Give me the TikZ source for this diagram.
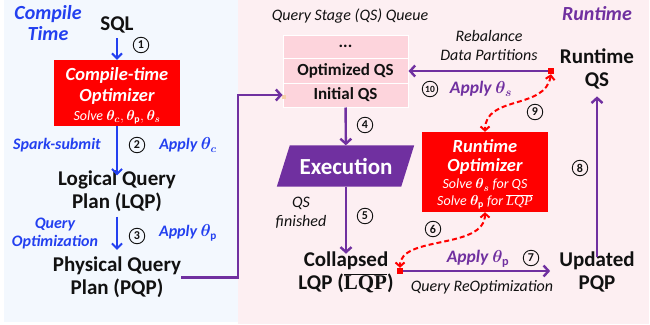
\documentclass[tikz,border=0pt]{standalone}
\usepackage{fontspec}
\setmainfont{Carlito}
\newfontfamily\lqpserif{Liberation Serif}
\usepackage{bm}
\usetikzlibrary{arrows.meta}

\definecolor{cblue}{HTML}{2340F0}
\definecolor{cpurple}{HTML}{7030A0}
\definecolor{cred}{HTML}{FF0000}
\definecolor{ink}{HTML}{111111}
\definecolor{leftbg}{HTML}{F3F8FE}
\definecolor{rightbg}{HTML}{FDEFF2}
\definecolor{qsfill}{HTML}{FDD4DC}
\definecolor{handle}{HTML}{F6CFA8}

\newcommand{\lqpbar}{$\overline{\mbox{\lqpserif\bfseries LQP}}$}
\newcommand{\lqpbarthin}{$\overline{\mbox{\lqpserif LQP}}$}

\tikzset{
  stagetext/.style={align=center, text=ink, font=\fontsize{21}{23}\selectfont\bfseries, inner sep=1pt},
  bluelabel/.style={text=cblue, font=\fontsize{16}{18}\selectfont\bfseries\itshape, align=center, inner sep=0pt},
  purplelabel/.style={text=cpurple, font=\fontsize{17.5}{20}\selectfont\bfseries\itshape, inner sep=0pt},
  note/.style={text=ink, font=\fontsize{16}{19}\selectfont\itshape, align=center, inner sep=0pt},
  stepnum/.style={circle, draw=ink, line width=0.9pt, minimum size=15.5pt, inner sep=0pt,
    font=\fontsize{12}{12}\selectfont\bfseries, text=ink},
  optbox/.style={fill=cred, minimum width=126pt, inner sep=0pt},
  boxhead/.style={text=white, font=\fontsize{18.5}{21}\selectfont\bfseries\itshape, inner sep=0pt},
  boxsub/.style={text=white, font=\fontsize{14}{16}\selectfont\itshape, inner sep=0pt},
  qsrow/.style={fill=qsfill, draw=white, line width=1pt, minimum width=125pt, inner sep=0pt,
    font=\fontsize{17}{19}\selectfont\bfseries, text=ink},
  barrow/.style={draw=cblue, line width=2pt, -{Straight Barb[length=5pt,width=10pt]}},
  parrow/.style={draw=cpurple, line width=2.4pt, -{Straight Barb[length=5pt,width=11pt]}},
  darrow/.style={draw=cred, line width=2pt, dash pattern=on 5pt off 3pt,
    {Straight Barb[length=4pt,width=9pt]}-{Straight Barb[length=4pt,width=9pt]}},
  redsq/.style={fill=cred, minimum size=6pt, inner sep=0pt},
}

\begin{document}
\begin{tikzpicture}[x=1pt,y=-1pt]
\useasboundingbox (0,0) rectangle (650,324);
\fill[white] (0,0) rectangle (650,324);
\fill[leftbg] (4,0) rectangle (238,321.5);
\fill[rightbg] (238,0) rectangle (649,324);

% ---------- compile time ----------
\node[bluelabel, font=\fontsize{20}{21}\selectfont\bfseries\itshape] (ctitle) at (48,23) {Compile\\Time};
\node[stagetext] (sql) at (117,25) {SQL};
\node[optbox, minimum height=66pt] (cto) at (117,93) {};
\node[boxhead] (ctoa) at (117,75) {Compile-time};
\node[boxhead] (ctob) at (117,96) {Optimizer};
\node[boxsub] (ctoc) at (117,117) {Solve $\bm{\theta}_{\bm{c}}, \bm{\theta}_{\mathbf{p}}, \bm{\theta}_{\bm{s}}$};
\node[stagetext] (lqp) at (117,191) {Logical Query\\Plan (LQP)};
\node[stagetext] (pqp) at (117,277.5) {Physical Query\\Plan (PQP)};

\draw[barrow, shorten <=4pt] (sql) -- (cto);
\draw[barrow, shorten >=-6pt] (cto) -- (lqp);
\draw[barrow, shorten <=4pt, shorten >=6pt] (lqp) -- (pqp);

\node[stepnum] (n1) at (141,45) {1};
\node[stepnum] (n2) at (137,145) {2};
\node[stepnum] (n3) at (137,236) {3};
\node[bluelabel] (spark) at (57,145) {Spark-submit};
\node[bluelabel] (applyc) at (188,145) {Apply $\bm{\theta}_{\bm{c}}$};
\node[bluelabel] (qopt) at (55,234) {Query\\Optimization};
\node[bluelabel] (applyp) at (188,233) {Apply $\bm{\theta}_{\mathbf{p}}$};

% ---------- runtime ----------
\node[purplelabel, font=\fontsize{20}{22}\selectfont\bfseries\itshape] (rtitle) at (597,14) {Runtime};
\node[note] (qtitle) at (350,16) {Query Stage (QS) Queue};

\node[qsrow, minimum height=23pt] (qdots) at (345.5,46.5) {...};
\node[qsrow, minimum height=25pt] (oqs) at (345.5,70.5) {Optimized QS};
\node[qsrow, minimum height=24pt] (iqs) at (345.5,95) {Initial QS};

% execution step: slanted purple block
\path node[minimum width=124pt, minimum height=41pt, inner sep=0pt] (exec) at (346,166) {};
\fill[cpurple] ([xshift=6pt]exec.north west) -- ([xshift=6pt]exec.north east)
  -- ([xshift=-7pt]exec.south east) -- ([xshift=-7pt]exec.south west) -- cycle;
\node[text=white, font=\fontsize{23}{25}\selectfont\bfseries, inner sep=0pt] (execlabel) at (exec) {Execution};

\node[stagetext] (clqp) at (346,272.5) {Collapsed\\LQP (\lqpbar)};
\node[stagetext] (upqp) at (597,271.5) {Updated\\PQP};
\node[stagetext] (rqs) at (597,69) {Runtime\\QS};

\node[optbox, minimum height=80pt] (rto) at (485,172) {};
\node[boxhead] (rtoa) at (485,146) {Runtime};
\node[boxhead] (rtob) at (485,166) {Optimizer};
\node[boxsub] (rtoc) at (485,185) {Solve $\bm{\theta}_{\bm{s}}$ for QS};
\node[boxsub] (rtod) at (485,202) {Solve $\bm{\theta}_{\mathbf{p}}$ for \lqpbarthin};

\node[redsq] (rs1) at (400,271) {};
\node[redsq] (rs2) at (551,71) {};
\node[fill=handle, minimum size=4pt, inner sep=0pt] (hd) at (284,97) {};

% connectors
\coordinate (jx) at (238,0);
\draw[parrow, line cap=rect] (pqp.east) -- (pqp.east -| jx) -- (jx |- iqs.west) -- (iqs.west);
\draw[parrow] (iqs) -- (exec);
\draw[parrow, shorten >=-3pt] (exec) -- (clqp);
\draw[parrow, shorten >=8pt] (rs1) -- (rs1 -| upqp.west);
\draw[parrow, shorten <=-7pt, shorten >=6pt] (upqp) -- (rqs);
\draw[parrow] (rs2) -- (rs2 -| oqs.east);
\draw[darrow] (rs2.south) .. controls (545,110) and (485,95) .. (rto.north);
\draw[darrow] (rto.south) .. controls (485,250) and (400,235) .. (rs1.north);

\node[stepnum] (n4) at (365,125) {4};
\node[stepnum] (n5) at (365,216) {5};
\node[stepnum] (n6) at (433,229) {6};
\node[stepnum] (n7) at (531,258) {7};
\node[stepnum] (n8) at (580,168) {8};
\node[stepnum] (n9) at (535,112) {9};
\node[stepnum, font=\fontsize{9.5}{9.5}\selectfont\bfseries] (n10) at (430,89) {10};

\node[note] (qsfin) at (301,212.5) {QS\\finished};
\node[note] (rebal) at (489,45.5) {Rebalance\\Data Partitions};
\node[note] (reopt) at (482,287) {Query ReOptimization};
\node[purplelabel] (applys) at (481,89) {Apply $\bm{\theta}_{\bm{s}}$};
\node[purplelabel] (applyp2) at (478,259) {Apply $\bm{\theta}_{\mathbf{p}}$};
\end{tikzpicture}
\end{document}
